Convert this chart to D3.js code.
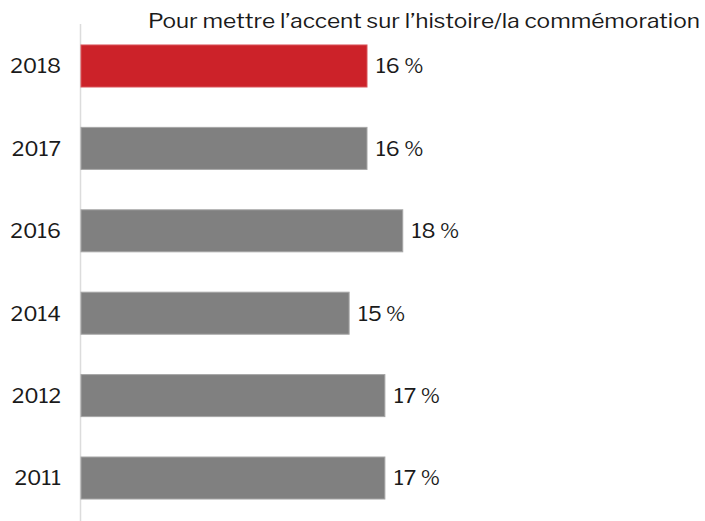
<!DOCTYPE html>
<html>
<head>
<meta charset="utf-8">
<script src="https://cdn.jsdelivr.net/npm/d3@7"></script>
<style>
  body { margin: 0; background: #fff; }
  text { font-family: "Libre Franklin", "Roboto", sans-serif; fill: #1a1a1a; }
</style>
</head>
<body>
<div id="container"></div>
<script>
	// data
	var years = ["2018", "2017", "2016", "2014", "2012", "2011"]
	var values = [16, 16, 18, 15, 17, 17]
	var title = "Pour mettre l’accent sur l’histoire/la commémoration"

	var width = 705
	var height = 521

	var svg = d3.select("#container")
		.append("svg")
		.attr("width", width)
		.attr("height", height)

	// scales
	var x = d3.scaleLinear()
		.domain([0, 20])
		.range([81, 438.5])

	var y = d3.scaleBand()
		.domain(years)
		.range([4.6, 539.4])
		.paddingInner(0.49)
		.paddingOuter(0.49)

	// vertical axis line
	svg.append("line")
		.attr("x1", 80.5).attr("x2", 80.5)
		.attr("y1", 24).attr("y2", height)
		.attr("stroke", "#dcdcdc")
		.attr("stroke-width", 1.5)

	// bars
	svg.selectAll("rect.bar")
		.data(values)
		.enter()
		.append("rect")
		.attr("class", "bar")
		.attr("x", x(0))
		.attr("y", function(d, i) { return y(years[i]) })
		.attr("width", function(d) { return x(d) - x(0) })
		.attr("height", y.bandwidth())
		.attr("fill", function(d, i) { return i == 0 ? "#cc2229" : "#808080" })
		.attr("stroke", function(d, i) { return i == 0 ? "#d9555a" : "#a6a6a6" })
		.attr("stroke-width", 1)

	// year labels
	svg.selectAll("text.year")
		.data(years)
		.enter()
		.append("text")
		.attr("class", "year")
		.attr("x", 61)
		.attr("y", function(d) { return y(d) + y.bandwidth() / 2 })
		.attr("dy", "0.35em")
		.attr("text-anchor", "end")
		.style("font-size", "21px")
		.text(function(d) { return d })

	// value labels
	svg.selectAll("text.val")
		.data(values)
		.enter()
		.append("text")
		.attr("class", "val")
		.attr("x", function(d) { return x(d) + 9 })
		.attr("y", function(d, i) { return y(years[i]) + y.bandwidth() / 2 })
		.attr("dy", "0.35em")
		.style("font-size", "21px")
		.text(function(d) { return d + "\u00a0%" })

	// title
	svg.append("text")
		.attr("x", 700)
		.attr("y", 28)
		.attr("text-anchor", "end")
		.attr("textLength", 552)
		.attr("lengthAdjust", "spacingAndGlyphs")
		.style("font-size", "21px")
		.text(title)
</script>
</body>
</html>
